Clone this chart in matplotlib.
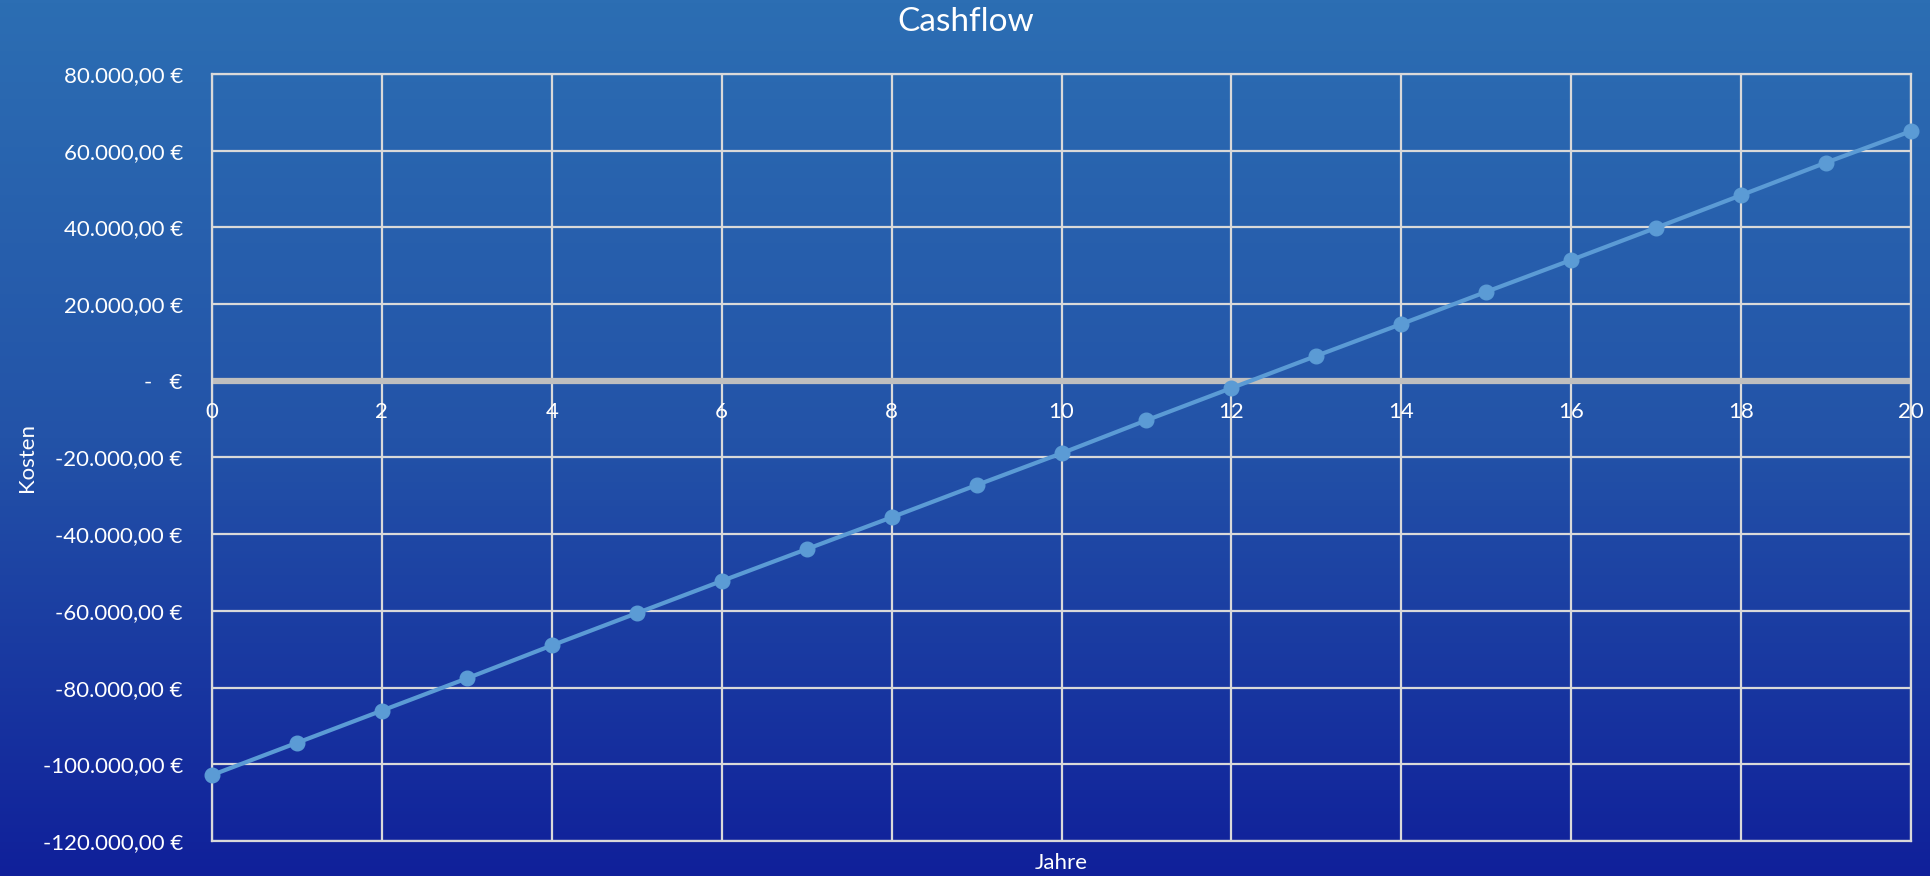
import numpy as np
import matplotlib
matplotlib.use("Agg")
import matplotlib.pyplot as plt
import matplotlib.transforms as mtransforms
from matplotlib.colors import LinearSegmentedColormap

# ---- data ----
years = list(range(0, 21))
cashflow = [-102.8, -94.4, -86.0, -77.6, -69.0, -60.6, -52.2, -43.9, -35.6, -27.2,
            -18.9, -10.3, -1.9, 6.5, 14.8, 23.2, 31.5, 39.9, 48.4, 56.9, 65.1]
cashflow = [v * 1000 for v in cashflow]
y_ticks = [80000, 60000, 40000, 20000, 0, -20000, -40000, -60000, -80000, -100000, -120000]
y_ticklabels = ["80.000,00 €", "60.000,00 €", "40.000,00 €", "20.000,00 €", "-   €",
                "-20.000,00 €", "-40.000,00 €", "-60.000,00 €", "-80.000,00 €",
                "-100.000,00 €", "-120.000,00 €"]
x_ticks = list(range(0, 21, 2))
title = "Cashflow"
xlabel = "Jahre"
ylabel = "Kosten"

plt.rcParams['font.family'] = ['Lato', 'DejaVu Sans']

W, H = 1931, 876
fig = plt.figure(figsize=(W / 100, H / 100), dpi=100)

# background gradient
bg = fig.add_axes([0, 0, 1, 1], zorder=0)
cmap = LinearSegmentedColormap.from_list("bg", ["#2C6EB3", "#2353A8", "#10209A"])
grad = np.linspace(0, 1, 256).reshape(-1, 1)
bg.imshow(grad, aspect="auto", cmap=cmap, extent=[0, 1, 0, 1])
bg.axis("off")

left, right, top, bottom = 212, 1911, 74, 841
ax = fig.add_axes([left / W, 1 - bottom / H, (right - left) / W, (bottom - top) / H], zorder=1)
ax.set_facecolor("none")

grid_c = "#D9D9D9"
ax.set_xlim(0, 20)
ax.set_ylim(-120000, 80000)
ax.set_yticks(y_ticks)
ax.set_yticklabels(y_ticklabels, color="white", fontsize=16)
ax.set_xticks(x_ticks)
ax.tick_params(axis="both", length=0)
ax.tick_params(axis="y", pad=21)
ax.set_xticklabels([])
offset = mtransforms.ScaledTranslation(0, -21 / 100, fig.dpi_scale_trans)
for xt in x_ticks:
    ax.text(xt, 0, str(xt), transform=ax.transData + offset, ha="center", va="top",
            color="white", fontsize=16)

ax.grid(True, color=grid_c, linewidth=1.6)
for s in ax.spines.values():
    s.set_color(grid_c)
    s.set_linewidth(1.6)
ax.axhline(0, color="#BFBFBF", linewidth=4.5, zorder=2)

ax.plot(years, cashflow, color="#5B9BD5", linewidth=3, marker="o", markersize=10.5,
        zorder=3, clip_on=False)

fig.text(0.5, 1 - 22 / H, title, ha="center", va="center", color="white", fontsize=24)
fig.text((left + right) / 2 / W, 1 - 863 / H, xlabel, ha="center", va="center",
         color="white", fontsize=16)
fig.text(27 / W, 1 - 457 / H, ylabel, ha="center", va="center", rotation=90,
         color="white", fontsize=16)

fig.savefig("out.png", dpi=100)
